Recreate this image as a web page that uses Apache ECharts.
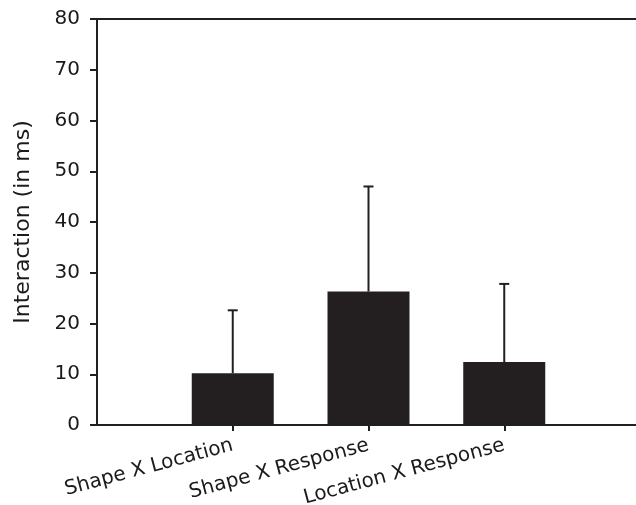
<!DOCTYPE html>
<html>
<head>
<meta charset="utf-8">
<script src="https://cdn.jsdelivr.net/npm/echarts@6/dist/echarts.min.js"></script>
<style>html,body{margin:0;padding:0;background:#fff;}#c{width:636px;height:505px;}</style>
</head>
<body>
<div id="c"></div>
<script>
var categories = ['', 'Shape X Location', 'Shape X Response', 'Location X Response', ''];
var means = [null, 10.2, 26.3, 12.4, null];
var upperErrors = [null, 22.6, 47.0, 27.8, null];
var yTicks = [0, 10, 20, 30, 40, 50, 60, 70, 80];

var chart = echarts.init(document.getElementById('c'));
var dark = '#231f20';
var font = 'DejaVu Sans';

var errData = [];
for (var i = 0; i < categories.length; i++) {
  if (means[i] != null) errData.push([i, means[i], upperErrors[i]]);
}

chart.setOption({
  animation: false,
  backgroundColor: '#fff',
  grid: { left: 97, right: -4, top: 19, bottom: 80, containLabel: false, outerBoundsMode: 'none' },
  xAxis: [{
    type: 'category',
    data: categories,
    boundaryGap: false,
    axisLine: { show: true, lineStyle: { color: dark, width: 2 } },
    axisTick: { show: true, length: 6, interval: function (i) { return i >= 1 && i <= 3; }, lineStyle: { color: dark, width: 2 } },
    axisLabel: { interval: 0, rotate: 15, margin: 20, fontFamily: font, fontSize: 20, color: '#1a1a1a' },
    splitLine: { show: false }
  }, {
    type: 'category',
    data: categories,
    position: 'top',
    boundaryGap: false,
    axisLine: { show: true, lineStyle: { color: dark, width: 2 } },
    axisTick: { show: false },
    axisLabel: { show: false },
    splitLine: { show: false }
  }],
  yAxis: {
    type: 'value',
    min: yTicks[0],
    max: yTicks[yTicks.length - 1],
    interval: 10,
    name: 'Interaction (in ms)',
    nameLocation: 'middle',
    nameGap: 63,
    nameTextStyle: { fontFamily: font, fontSize: 22, color: '#1a1a1a' },
    axisLine: { show: true, lineStyle: { color: dark, width: 2 } },
    axisTick: { show: true, length: 7, lineStyle: { color: dark, width: 2 } },
    axisLabel: { margin: 17, fontFamily: font, fontSize: 20, color: '#1a1a1a' },
    splitLine: { show: false }
  },
  series: [{
    type: 'bar',
    data: means,
    barWidth: 82,
    itemStyle: { color: dark },
    z: 2
  }, {
    type: 'custom',
    data: errData,
    z: 3,
    renderItem: function (params, api) {
      var x = api.value(0);
      var lo = api.coord([x, api.value(1)]);
      var hi = api.coord([x, api.value(2)]);
      var half = 5;
      return {
        type: 'group',
        children: [{
          type: 'line',
          shape: { x1: lo[0], y1: lo[1], x2: hi[0], y2: hi[1] },
          style: { stroke: dark, lineWidth: 2 }
        }, {
          type: 'line',
          shape: { x1: hi[0] - half, y1: hi[1], x2: hi[0] + half, y2: hi[1] },
          style: { stroke: dark, lineWidth: 2 }
        }]
      };
    }
  }]
});
</script>
</body>
</html>
